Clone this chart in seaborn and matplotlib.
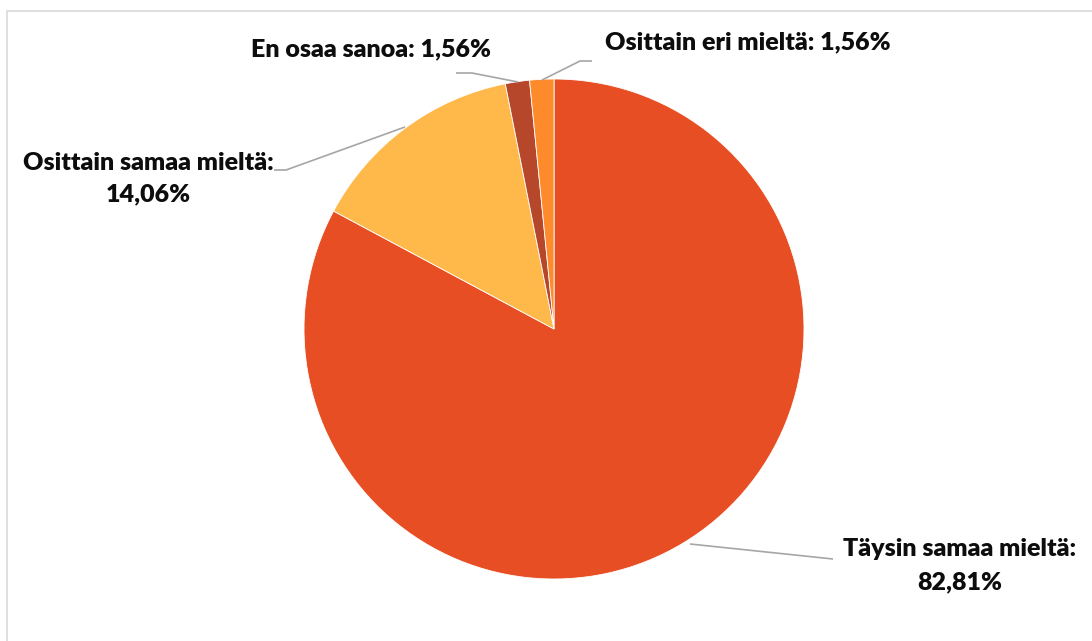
import matplotlib
matplotlib.use("Agg")
import matplotlib.pyplot as plt
import seaborn as sns
from matplotlib.patches import Rectangle

# Survey answers, clockwise from 12 o'clock
categories = ["Täysin samaa mieltä", "Osittain samaa mieltä", "En osaa sanoa", "Osittain eri mieltä"]
shares = [82.81, 14.06, 1.56, 1.56]
slice_colors = ["#E84E23", "#FFB94B", "#B6472A", "#FD8A2B"]

sns.set_theme(style="white")
plt.rcParams["font.family"] = ["Lato", "DejaVu Sans"]

W, H = 1092, 641
fig = plt.figure(figsize=(W / 100, H / 100), dpi=100)
ax = fig.add_axes([0, 0, 1, 1])

cx, cy, r = 554, H - 329, 250
ax.pie(shares, colors=sns.color_palette(slice_colors), startangle=90, counterclock=False,
       center=(cx, cy), radius=r, frame=True,
       wedgeprops=dict(edgecolor="white", linewidth=0.6))
ax.set_xlim(0, W)
ax.set_ylim(0, H)
ax.set_aspect("equal")
ax.axis("off")

# chart frame
ax.add_patch(Rectangle((6.5, -20), W + 20, H - 10.5 + 20, fill=False,
                       edgecolor="#D9D9D9", linewidth=1.2, clip_on=False))


def fmt(v):
    return f"{v:.2f}".replace(".", ",") + "%"


def Y(py):
    return H - py


line_kw = dict(color="#A6A6A6", linewidth=1.2, solid_capstyle="butt")
txt_kw = dict(fontsize=18, fontweight="heavy", color="#0D0D0D", ha="center", va="center")

# Täysin samaa mieltä
ax.plot([690, 833], [Y(544), Y(559)], **line_kw)
ax.text(960, Y(549), categories[0] + ":", **txt_kw)
ax.text(960, Y(582), fmt(shares[0]), **txt_kw)

# Osittain samaa mieltä
ax.plot([405, 286, 274], [Y(127), Y(170), Y(170)], **line_kw)
ax.text(148, Y(163), categories[1] + ":", **txt_kw)
ax.text(148, Y(194), fmt(shares[1]), **txt_kw)

# En osaa sanoa
ax.plot([518, 472, 456], [Y(82), Y(73), Y(73)], **line_kw)
ax.text(371, Y(49), f"{categories[2]}: {fmt(shares[2])}", **txt_kw)

# Osittain eri mieltä
ax.plot([542, 580, 592], [Y(80), Y(61), Y(61)], **line_kw)
ax.text(748, Y(42), f"{categories[3]}: {fmt(shares[3])}", **txt_kw)

fig.savefig("out.png", dpi=100, facecolor="white")
